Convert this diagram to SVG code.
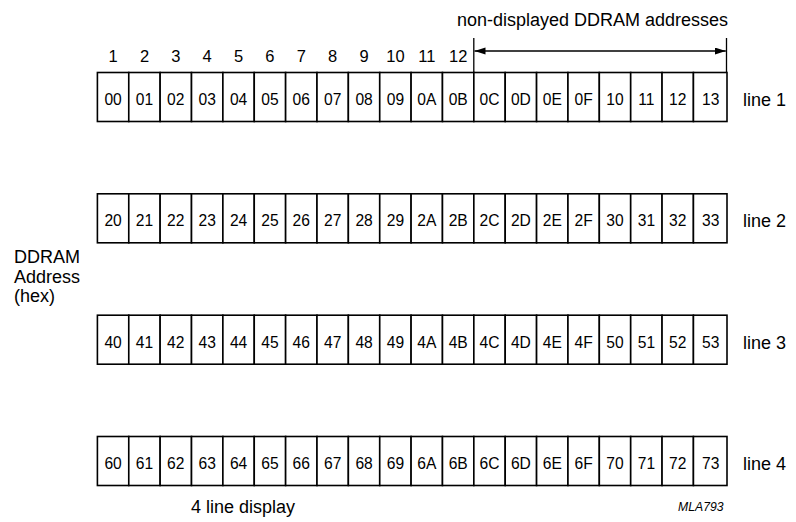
<svg xmlns="http://www.w3.org/2000/svg" width="796" height="522" viewBox="0 0 796 522">
<style>
text{font-family:"Liberation Sans",Arial,Helvetica,sans-serif;fill:#000}
.cell rect{fill:#fff;stroke:#000;stroke-width:1.6}
.cell text{font-size:15.6px;text-anchor:middle}
.col{font-size:16.5px;text-anchor:middle}
.lbl{font-size:18px}
.dim{stroke:#000;stroke-width:1.3;fill:none}
</style>
<defs>
<marker id="ah" markerUnits="userSpaceOnUse" markerWidth="12" markerHeight="8" refX="11" refY="3.5" orient="auto-start-reverse" viewBox="0 0 12 8">
<path d="M0,0 L11,3.5 L0,7 z" fill="#000"/>
</marker>
</defs>

<!-- column numbers -->
<g id="columns">
<text class="col" x="113.1" y="61.7">1</text>
<text class="col" x="144.5" y="61.7">2</text>
<text class="col" x="175.8" y="61.7">3</text>
<text class="col" x="207.2" y="61.7">4</text>
<text class="col" x="238.6" y="61.7">5</text>
<text class="col" x="269.9" y="61.7">6</text>
<text class="col" x="301.3" y="61.7">7</text>
<text class="col" x="332.7" y="61.7">8</text>
<text class="col" x="364.1" y="61.7">9</text>
<text class="col" x="395.4" y="61.7">10</text>
<text class="col" x="426.8" y="61.7">11</text>
<text class="col" x="458.2" y="61.7">12</text>
</g>

<g id="nondisplayed-label">
<text class="lbl" x="592.5" y="26" text-anchor="middle" font-size="18.5">non-displayed DDRAM addresses</text>
</g>

<g id="connectors">
<line class="dim" x1="473.8" y1="38" x2="473.8" y2="72"/>
<line class="dim" x1="726.5" y1="38" x2="726.5" y2="72"/>
<line class="dim" x1="474.5" y1="51" x2="725.8" y2="51" marker-start="url(#ah)" marker-end="url(#ah)"/>
</g>

<!-- row 1 -->
<g id="line1">
<g class="cell" id="c00"><rect x="97.4" y="72.5" width="31.37" height="49"/><text x="113.1" y="105">00</text></g>
<g class="cell" id="c01"><rect x="128.77" y="72.5" width="31.37" height="49"/><text x="144.5" y="105">01</text></g>
<g class="cell" id="c02"><rect x="160.14" y="72.5" width="31.37" height="49"/><text x="175.8" y="105">02</text></g>
<g class="cell" id="c03"><rect x="191.51" y="72.5" width="31.37" height="49"/><text x="207.2" y="105">03</text></g>
<g class="cell" id="c04"><rect x="222.88" y="72.5" width="31.37" height="49"/><text x="238.6" y="105">04</text></g>
<g class="cell" id="c05"><rect x="254.25" y="72.5" width="31.37" height="49"/><text x="269.9" y="105">05</text></g>
<g class="cell" id="c06"><rect x="285.62" y="72.5" width="31.37" height="49"/><text x="301.3" y="105">06</text></g>
<g class="cell" id="c07"><rect x="316.99" y="72.5" width="31.37" height="49"/><text x="332.7" y="105">07</text></g>
<g class="cell" id="c08"><rect x="348.36" y="72.5" width="31.37" height="49"/><text x="364.1" y="105">08</text></g>
<g class="cell" id="c09"><rect x="379.73" y="72.5" width="31.37" height="49"/><text x="395.4" y="105">09</text></g>
<g class="cell" id="c0A"><rect x="411.1" y="72.5" width="31.37" height="49"/><text x="426.8" y="105">0A</text></g>
<g class="cell" id="c0B"><rect x="442.47" y="72.5" width="31.37" height="49"/><text x="458.2" y="105">0B</text></g>
<g class="cell" id="c0C"><rect x="473.84" y="72.5" width="31.37" height="49"/><text x="489.5" y="105">0C</text></g>
<g class="cell" id="c0D"><rect x="505.21" y="72.5" width="31.37" height="49"/><text x="520.9" y="105">0D</text></g>
<g class="cell" id="c0E"><rect x="536.58" y="72.5" width="31.37" height="49"/><text x="552.3" y="105">0E</text></g>
<g class="cell" id="c0F"><rect x="567.95" y="72.5" width="31.37" height="49"/><text x="583.6" y="105">0F</text></g>
<g class="cell" id="c10"><rect x="599.32" y="72.5" width="31.37" height="49"/><text x="615" y="105">10</text></g>
<g class="cell" id="c11"><rect x="630.69" y="72.5" width="31.37" height="49"/><text x="646.4" y="105">11</text></g>
<g class="cell" id="c12"><rect x="662.06" y="72.5" width="31.37" height="49"/><text x="677.8" y="105">12</text></g>
<g class="cell" id="c13"><rect x="693.43" y="72.5" width="33.57" height="49"/><text x="710.7" y="105">13</text></g>
<text class="lbl" x="743" y="106">line 1</text>
</g>

<!-- row 2 -->
<g id="line2">
<g class="cell" id="c20"><rect x="97.4" y="193.8" width="31.37" height="49"/><text x="113.1" y="226.3">20</text></g>
<g class="cell" id="c21"><rect x="128.77" y="193.8" width="31.37" height="49"/><text x="144.5" y="226.3">21</text></g>
<g class="cell" id="c22"><rect x="160.14" y="193.8" width="31.37" height="49"/><text x="175.8" y="226.3">22</text></g>
<g class="cell" id="c23"><rect x="191.51" y="193.8" width="31.37" height="49"/><text x="207.2" y="226.3">23</text></g>
<g class="cell" id="c24"><rect x="222.88" y="193.8" width="31.37" height="49"/><text x="238.6" y="226.3">24</text></g>
<g class="cell" id="c25"><rect x="254.25" y="193.8" width="31.37" height="49"/><text x="269.9" y="226.3">25</text></g>
<g class="cell" id="c26"><rect x="285.62" y="193.8" width="31.37" height="49"/><text x="301.3" y="226.3">26</text></g>
<g class="cell" id="c27"><rect x="316.99" y="193.8" width="31.37" height="49"/><text x="332.7" y="226.3">27</text></g>
<g class="cell" id="c28"><rect x="348.36" y="193.8" width="31.37" height="49"/><text x="364.1" y="226.3">28</text></g>
<g class="cell" id="c29"><rect x="379.73" y="193.8" width="31.37" height="49"/><text x="395.4" y="226.3">29</text></g>
<g class="cell" id="c2A"><rect x="411.1" y="193.8" width="31.37" height="49"/><text x="426.8" y="226.3">2A</text></g>
<g class="cell" id="c2B"><rect x="442.47" y="193.8" width="31.37" height="49"/><text x="458.2" y="226.3">2B</text></g>
<g class="cell" id="c2C"><rect x="473.84" y="193.8" width="31.37" height="49"/><text x="489.5" y="226.3">2C</text></g>
<g class="cell" id="c2D"><rect x="505.21" y="193.8" width="31.37" height="49"/><text x="520.9" y="226.3">2D</text></g>
<g class="cell" id="c2E"><rect x="536.58" y="193.8" width="31.37" height="49"/><text x="552.3" y="226.3">2E</text></g>
<g class="cell" id="c2F"><rect x="567.95" y="193.8" width="31.37" height="49"/><text x="583.6" y="226.3">2F</text></g>
<g class="cell" id="c30"><rect x="599.32" y="193.8" width="31.37" height="49"/><text x="615" y="226.3">30</text></g>
<g class="cell" id="c31"><rect x="630.69" y="193.8" width="31.37" height="49"/><text x="646.4" y="226.3">31</text></g>
<g class="cell" id="c32"><rect x="662.06" y="193.8" width="31.37" height="49"/><text x="677.8" y="226.3">32</text></g>
<g class="cell" id="c33"><rect x="693.43" y="193.8" width="33.57" height="49"/><text x="710.7" y="226.3">33</text></g>
<text class="lbl" x="743" y="227.3">line 2</text>
</g>

<!-- row 3 -->
<g id="line3">
<g class="cell" id="c40"><rect x="97.4" y="315.2" width="31.37" height="49"/><text x="113.1" y="347.7">40</text></g>
<g class="cell" id="c41"><rect x="128.77" y="315.2" width="31.37" height="49"/><text x="144.5" y="347.7">41</text></g>
<g class="cell" id="c42"><rect x="160.14" y="315.2" width="31.37" height="49"/><text x="175.8" y="347.7">42</text></g>
<g class="cell" id="c43"><rect x="191.51" y="315.2" width="31.37" height="49"/><text x="207.2" y="347.7">43</text></g>
<g class="cell" id="c44"><rect x="222.88" y="315.2" width="31.37" height="49"/><text x="238.6" y="347.7">44</text></g>
<g class="cell" id="c45"><rect x="254.25" y="315.2" width="31.37" height="49"/><text x="269.9" y="347.7">45</text></g>
<g class="cell" id="c46"><rect x="285.62" y="315.2" width="31.37" height="49"/><text x="301.3" y="347.7">46</text></g>
<g class="cell" id="c47"><rect x="316.99" y="315.2" width="31.37" height="49"/><text x="332.7" y="347.7">47</text></g>
<g class="cell" id="c48"><rect x="348.36" y="315.2" width="31.37" height="49"/><text x="364.1" y="347.7">48</text></g>
<g class="cell" id="c49"><rect x="379.73" y="315.2" width="31.37" height="49"/><text x="395.4" y="347.7">49</text></g>
<g class="cell" id="c4A"><rect x="411.1" y="315.2" width="31.37" height="49"/><text x="426.8" y="347.7">4A</text></g>
<g class="cell" id="c4B"><rect x="442.47" y="315.2" width="31.37" height="49"/><text x="458.2" y="347.7">4B</text></g>
<g class="cell" id="c4C"><rect x="473.84" y="315.2" width="31.37" height="49"/><text x="489.5" y="347.7">4C</text></g>
<g class="cell" id="c4D"><rect x="505.21" y="315.2" width="31.37" height="49"/><text x="520.9" y="347.7">4D</text></g>
<g class="cell" id="c4E"><rect x="536.58" y="315.2" width="31.37" height="49"/><text x="552.3" y="347.7">4E</text></g>
<g class="cell" id="c4F"><rect x="567.95" y="315.2" width="31.37" height="49"/><text x="583.6" y="347.7">4F</text></g>
<g class="cell" id="c50"><rect x="599.32" y="315.2" width="31.37" height="49"/><text x="615" y="347.7">50</text></g>
<g class="cell" id="c51"><rect x="630.69" y="315.2" width="31.37" height="49"/><text x="646.4" y="347.7">51</text></g>
<g class="cell" id="c52"><rect x="662.06" y="315.2" width="31.37" height="49"/><text x="677.8" y="347.7">52</text></g>
<g class="cell" id="c53"><rect x="693.43" y="315.2" width="33.57" height="49"/><text x="710.7" y="347.7">53</text></g>
<text class="lbl" x="743" y="348.7">line 3</text>
</g>

<!-- row 4 -->
<g id="line4">
<g class="cell" id="c60"><rect x="97.4" y="436.5" width="31.37" height="49"/><text x="113.1" y="469">60</text></g>
<g class="cell" id="c61"><rect x="128.77" y="436.5" width="31.37" height="49"/><text x="144.5" y="469">61</text></g>
<g class="cell" id="c62"><rect x="160.14" y="436.5" width="31.37" height="49"/><text x="175.8" y="469">62</text></g>
<g class="cell" id="c63"><rect x="191.51" y="436.5" width="31.37" height="49"/><text x="207.2" y="469">63</text></g>
<g class="cell" id="c64"><rect x="222.88" y="436.5" width="31.37" height="49"/><text x="238.6" y="469">64</text></g>
<g class="cell" id="c65"><rect x="254.25" y="436.5" width="31.37" height="49"/><text x="269.9" y="469">65</text></g>
<g class="cell" id="c66"><rect x="285.62" y="436.5" width="31.37" height="49"/><text x="301.3" y="469">66</text></g>
<g class="cell" id="c67"><rect x="316.99" y="436.5" width="31.37" height="49"/><text x="332.7" y="469">67</text></g>
<g class="cell" id="c68"><rect x="348.36" y="436.5" width="31.37" height="49"/><text x="364.1" y="469">68</text></g>
<g class="cell" id="c69"><rect x="379.73" y="436.5" width="31.37" height="49"/><text x="395.4" y="469">69</text></g>
<g class="cell" id="c6A"><rect x="411.1" y="436.5" width="31.37" height="49"/><text x="426.8" y="469">6A</text></g>
<g class="cell" id="c6B"><rect x="442.47" y="436.5" width="31.37" height="49"/><text x="458.2" y="469">6B</text></g>
<g class="cell" id="c6C"><rect x="473.84" y="436.5" width="31.37" height="49"/><text x="489.5" y="469">6C</text></g>
<g class="cell" id="c6D"><rect x="505.21" y="436.5" width="31.37" height="49"/><text x="520.9" y="469">6D</text></g>
<g class="cell" id="c6E"><rect x="536.58" y="436.5" width="31.37" height="49"/><text x="552.3" y="469">6E</text></g>
<g class="cell" id="c6F"><rect x="567.95" y="436.5" width="31.37" height="49"/><text x="583.6" y="469">6F</text></g>
<g class="cell" id="c70"><rect x="599.32" y="436.5" width="31.37" height="49"/><text x="615" y="469">70</text></g>
<g class="cell" id="c71"><rect x="630.69" y="436.5" width="31.37" height="49"/><text x="646.4" y="469">71</text></g>
<g class="cell" id="c72"><rect x="662.06" y="436.5" width="31.37" height="49"/><text x="677.8" y="469">72</text></g>
<g class="cell" id="c73"><rect x="693.43" y="436.5" width="33.57" height="49"/><text x="710.7" y="469">73</text></g>
<text class="lbl" x="743" y="470">line 4</text>
</g>

<g id="axis-label">
<text class="lbl" x="14" y="263">DDRAM</text>
<text class="lbl" x="14" y="282.5">Address</text>
<text class="lbl" x="14" y="302">(hex)</text>
</g>

<g id="caption">
<text class="lbl" x="243" y="513.3" text-anchor="middle">4 line display</text>
</g>

<g id="code">
<text x="723.5" y="510.7" font-size="12.2" font-style="italic" text-anchor="end">MLA793</text>
</g>
</svg>
